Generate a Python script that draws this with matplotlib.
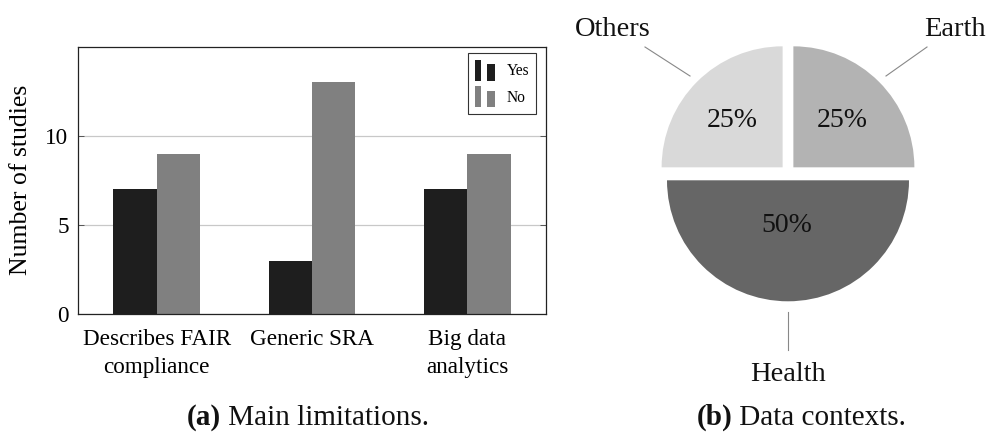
import matplotlib
matplotlib.use("Agg")
import matplotlib.pyplot as plt
from matplotlib.patches import Rectangle
from matplotlib.legend_handler import HandlerBase
import numpy as np

# ---------------- data ----------------
categories = ["Describes FAIR\ncompliance", "Generic SRA", "Big data\nanalytics"]
yes_values = [7, 3, 7]
no_values = [9, 13, 9]
series_names = ["Yes", "No"]
y_ticks = [0, 5, 10]

pie_labels = ["Earth", "Others", "Health"]
pie_values = [25, 25, 50]
pie_colors = ["#b3b3b3", "#d9d9d9", "#666666"]

caption_a = ("(a)", " Main limitations.")
caption_b = ("(b)", " Data contexts.")

# ---------------- figure ----------------
W, H = 987, 432
fig = plt.figure(figsize=(W / 100, H / 100), dpi=100)
plt.rcParams["font.family"] = ["Liberation Serif", "DejaVu Serif"]


def fx(px):
    return px / W


def fy(py):
    return 1 - py / H


# ---------------- bar chart ----------------
L, R, T, B = 78.3, 545.7, 46.7, 314.0
ax = fig.add_axes([fx(L), fy(B), fx(R - L), (B - T) / H])
x = np.arange(len(categories))
bw = 0.28
yes_color = "#1e1e1e"
no_color = "#808080"
b1 = ax.bar(x - bw / 2, yes_values, bw, color=yes_color, label=series_names[0], zorder=2)
b2 = ax.bar(x + bw / 2, no_values, bw, color=no_color, label=series_names[1], zorder=2)
ax.set_xlim(-0.505, 2.505)
ax.set_ylim(0, 15)
ax.set_yticks(y_ticks)
ax.set_xticks(x)
ax.set_xticklabels(categories, fontsize=16.7, linespacing=1.45)
ax.tick_params(axis="x", length=0, pad=11)
ax.tick_params(axis="y", direction="in", length=4, width=0.7, color="#555555",
               left=True, right=True, labelsize=16.7, pad=7)
ax.yaxis.grid(True, color="#c8c8c8", linewidth=0.9, zorder=0)
ax.set_axisbelow(True)
for s in ax.spines.values():
    s.set_linewidth(0.9)
    s.set_color("#222222")

ax.set_ylabel("Number of studies", fontsize=18.5)
ax.yaxis.label.set_verticalalignment("center")
ax.yaxis.set_label_coords((21 - L) / (R - L), 0.5)


class TwoBarHandler(HandlerBase):
    def create_artists(self, legend, orig_handle, xdescent, ydescent, width,
                       height, fontsize, trans):
        c = orig_handle.patches[0].get_facecolor()
        x0, y0 = -xdescent, -ydescent
        r1 = Rectangle((x0, y0), width * 0.33, height, facecolor=c,
                       edgecolor="none", transform=trans)
        r2 = Rectangle((x0 + width * 0.63, y0), width * 0.37, height * 0.78,
                       facecolor=c, edgecolor="none", transform=trans)
        return [r1, r2]


leg = ax.legend(handles=[b1, b2], labels=series_names,
                handler_map={type(b1): TwoBarHandler()},
                loc="upper right",
                bbox_to_anchor=((536 - L) / (R - L), 1 - (52.7 - T) / (B - T)),
                borderaxespad=0, fontsize=11.2, handlelength=1.29,
                handleheight=1.70, handletextpad=0.75, labelspacing=0.34,
                borderpad=0.45, fancybox=False, framealpha=1,
                edgecolor="#333333")
leg.get_frame().set_linewidth(0.8)

# ---------------- pie chart ----------------
PX0 = 560
ax2 = fig.add_axes([fx(PX0), 0, fx(W - PX0), 1])
cx, cy = 788.0, H - 172.7
r = 121
wedges, _ = ax2.pie(pie_values, colors=pie_colors, startangle=0,
                    counterclock=True, center=(cx, cy), radius=r,
                    explode=[7.6] * len(pie_values),
                    wedgeprops=dict(linewidth=0))
ax2.set_xlim(PX0, W)
ax2.set_ylim(0, H)
ax2.set_aspect("equal")
ax2.axis("off")

pct_pos = {"Earth": (842, 127.3), "Others": (732.5, 127.3), "Health": (787, 231.7)}
name_pos = {"Earth": (954.5, 36), "Others": (612.8, 36), "Health": (788.3, 381)}
lead = {"Earth": ((927, 47), (886, 76)), "Others": ((645, 47), (690, 76)),
        "Health": ((788, 312), (788, 350))}
for lab, val in zip(pie_labels, pie_values):
    px, py = pct_pos[lab]
    ax2.text(px, H - py, f"{val}%", ha="center", va="baseline", fontsize=20,
             color="#111111")
    nx, ny = name_pos[lab]
    ax2.text(nx, H - ny, lab, ha="center", va="baseline", fontsize=20.5,
             color="#111111")
    (x1, y1), (x2, y2) = lead[lab]
    ax2.plot([x1, x2], [H - y1, H - y2], color="#888888", linewidth=0.8)

# ---------------- captions ----------------
for (bold, rest), xl in ((caption_a, 186.7), (caption_b, 696.7)):
    t1 = fig.text(fx(xl), fy(424.5), bold, fontsize=21, fontweight="bold",
                  ha="left", va="baseline", color="#111111")
    fig.text(0, 0, "")
    fig.texts[-1].remove()
    ax.annotate(rest, xy=(1, 0), xycoords=t1, xytext=(0, 0),
                textcoords="offset points", fontsize=21, ha="left",
                va="bottom", color="#111111", annotation_clip=False)

fig.savefig("out.png", dpi=100)
